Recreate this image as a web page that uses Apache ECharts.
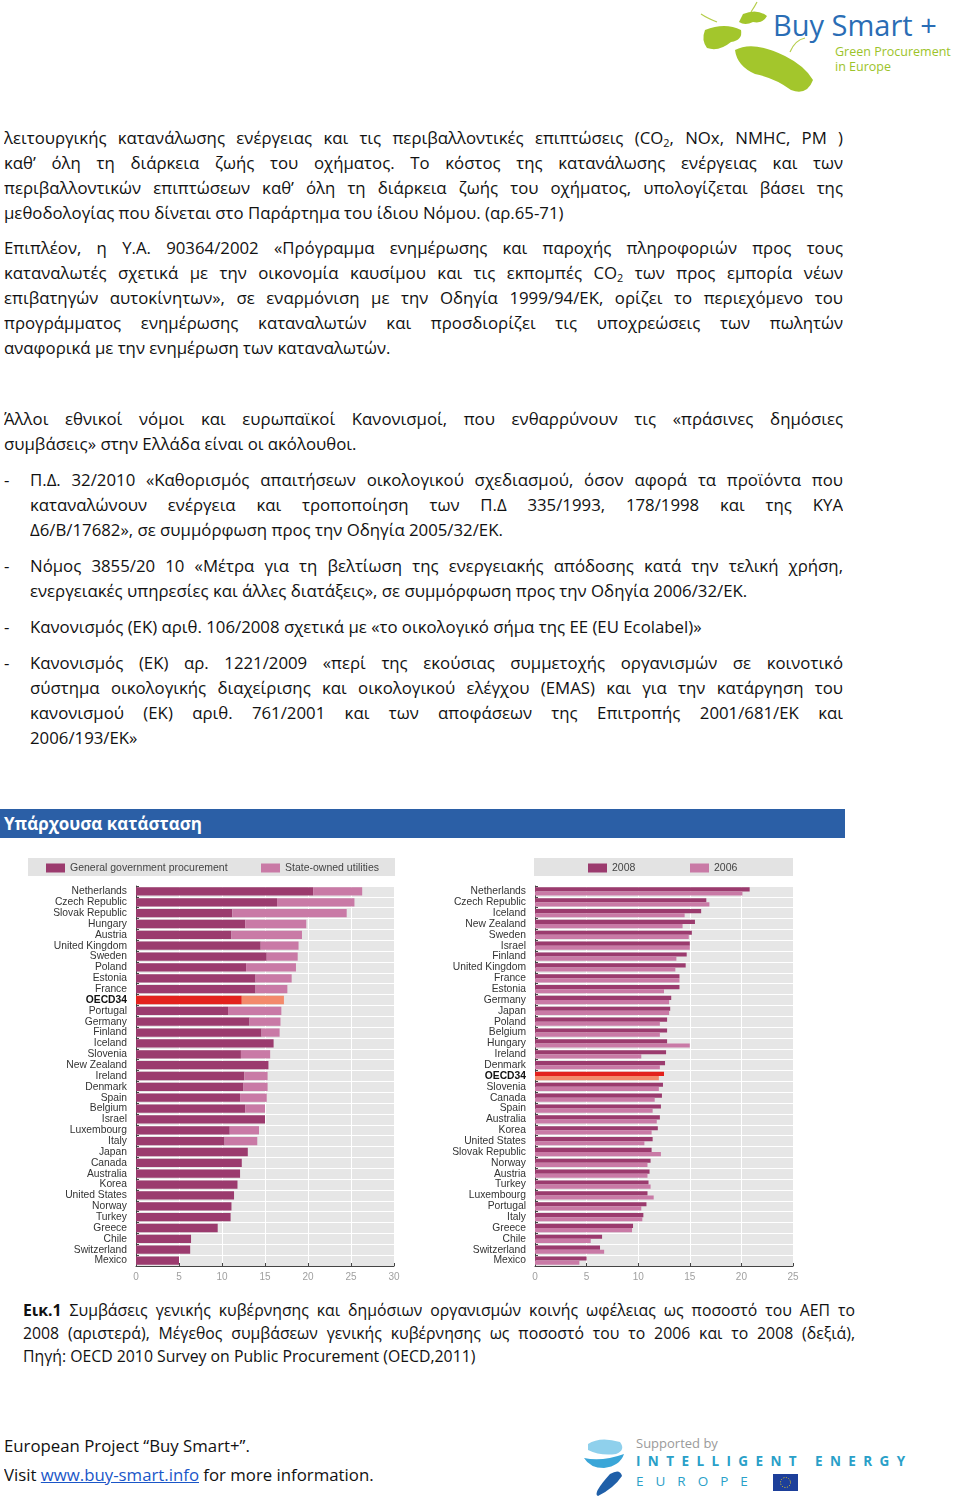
<!DOCTYPE html>
<html>
<head>
<meta charset="utf-8">
<script src="https://cdn.jsdelivr.net/npm/echarts@6/dist/echarts.min.js"></script>
<style>
  html, body { margin:0; padding:0; background:#fff; }
  body { width:960px; height:1500px; position:relative; overflow:hidden; font-family:"Open Sans","Noto Sans",sans-serif; color:#111; }
  .ln { position:absolute; height:25px; line-height:25px; font-size:16.8px; white-space:normal; overflow:hidden; }
  .j { text-align:justify; text-align-last:justify; }
  .cap { font-size:15.8px; height:23px; line-height:23px; }
  sub { font-size:0.65em; vertical-align:-0.25em; line-height:0; }
  #chart { position:absolute; left:0; top:850px; width:960px; height:445px; }
  .hdr { position:absolute; left:0; top:809px; width:845px; height:29px; background:#2b5fa6; color:#fff; font-weight:bold; font-size:17px; line-height:29px; padding-left:4px; box-sizing:border-box; }
  a { color:#1a56c8; text-decoration:underline; }
</style>
</head>
<body>
<!-- top-right logo -->
<svg style="position:absolute;left:695px;top:0" width="265" height="100">
  <g stroke="#b5cd4a" stroke-width="1.2" fill="none">
    <path d="M56 12 Q60 6 62 2"/><path d="M22 22 Q12 18 6 14"/><path d="M95 52 Q100 40 110 38"/>
  </g>
  <g fill="#a3c62c">
    <path d="M48 14 Q62 8 72 16 Q68 24 58 22 Q50 26 44 22 Z"/>
    <path d="M10 30 Q30 22 46 30 Q48 40 36 42 Q24 52 12 48 Q6 40 10 30 Z"/>
    <path d="M40 50 Q58 40 90 56 Q110 66 118 80 Q112 96 96 90 Q80 78 60 74 Q42 66 40 50 Z"/>
  </g>
  <text x="78" y="36" font-family="Open Sans, sans-serif" font-size="29" fill="#2a6db5">Buy Smart +</text>
  <text x="140" y="56" font-family="Open Sans, sans-serif" font-size="12.5" fill="#9cc32a">Green Procurement</text>
  <text x="140" y="71" font-family="Open Sans, sans-serif" font-size="12.5" fill="#9cc32a">in Europe</text>
</svg>

<div id="doc"></div>
<div class="hdr">Υπάρχουσα κατάσταση</div>
<div id="chart"></div>

<!-- bottom logo -->
<svg style="position:absolute;left:580px;top:1432px" width="340" height="66">
  <path d="M8 12 Q20 4 40 10 Q46 18 36 22 Q20 24 8 18 Z" fill="#8fd0ec"/>
  <path d="M4 26 Q22 30 44 22 Q40 34 24 36 Q10 36 4 26 Z" fill="#3aa6d8"/>
  <path d="M30 42 Q40 36 42 44 Q34 56 18 64 Q12 62 30 42 Z" fill="#1f5fa8"/>
  <text x="56" y="16" font-family="Open Sans, sans-serif" font-size="13" fill="#9a9a9a">Supported by</text>
  <text x="56" y="34" font-family="Open Sans, sans-serif" font-size="13.5" font-weight="bold" fill="#2aa0c8" letter-spacing="7.4">INTELLIGENT ENERGY</text>
  <text x="56" y="54" font-family="Open Sans, sans-serif" font-size="13.5" fill="#2aa0c8" letter-spacing="12">EUROPE</text>
  <rect x="193" y="42" width="25" height="17" fill="#1d3f9a"/>
  <circle cx="205.5" cy="50.5" r="5" fill="none" stroke="#f3d21b" stroke-width="1" stroke-dasharray="1 1.6"/>
</svg>

<script>
// ---------------- DATA ----------------
const leftCountries = ['Netherlands','Czech Republic','Slovak Republic','Hungary','Austria','United Kingdom','Sweden','Poland','Estonia','France','OECD34','Portugal','Germany','Finland','Iceland','Slovenia','New Zealand','Ireland','Denmark','Spain','Belgium','Israel','Luxembourg','Italy','Japan','Canada','Australia','Korea','United States','Norway','Turkey','Greece','Chile','Switzerland','Mexico'];
const generalGov = [20.6,16.4,11.2,12.7,11.1,14.5,15.2,12.8,13.9,13.9,12.3,10.7,13.2,14.6,16.0,12.2,15.4,12.6,12.5,12.1,12.7,15.0,10.9,10.3,13.0,12.3,12.1,11.8,11.4,11.1,11.0,9.5,6.4,6.3,5.0];
const stateOwned = [5.7,9.0,13.3,7.1,8.2,4.4,3.6,5.8,4.2,3.7,4.9,6.2,3.6,2.1,0,3.4,0,2.7,2.8,3.1,2.3,0,3.4,3.8,0,0,0,0,0,0,0,0,0,0,0];
const leftTicks = [0,5,10,15,20,25,30];

const rightCountries = ['Netherlands','Czech Republic','Iceland','New Zealand','Sweden','Israel','Finland','United Kingdom','France','Estonia','Germany','Japan','Poland','Belgium','Hungary','Ireland','Denmark','OECD34','Slovenia','Canada','Spain','Australia','Korea','United States','Slovak Republic','Norway','Austria','Turkey','Luxembourg','Portugal','Italy','Greece','Chile','Switzerland','Mexico'];
const v2008 = [20.8,16.6,16.1,15.5,15.2,15.0,14.7,14.6,14.0,14.0,13.2,13.1,12.8,12.8,12.8,12.7,12.6,12.5,12.4,12.3,12.2,12.1,11.9,11.4,11.3,11.2,11.1,11.0,10.9,10.8,10.5,9.5,6.5,6.3,5.0];
const v2006 = [20.1,16.9,14.5,14.3,14.9,15.0,13.7,13.6,14.0,12.5,13.0,13.0,12.1,12.1,15.0,10.3,12.1,12.0,12.0,11.6,11.4,11.8,11.3,10.6,12.2,10.9,10.9,11.2,11.5,10.3,10.4,9.4,5.4,6.7,4.3];
const rightTicks = [0,5,10,15,20,25];

const leftLegend = ['General government procurement','State-owned utilities'];
const rightLegend = ['2008','2006'];

// ---------------- TEXT ----------------
const docLines = [
  [137,4,839,true,'λειτουργικής κατανάλωσης ενέργειας και τις περιβαλλοντικές επιπτώσεις (CO<sub>2</sub>, NOx, NMHC, PM )'],
  [162,4,839,true,'καθ’ όλη τη διάρκεια ζωής του οχήματος. Το κόστος της κατανάλωσης ενέργειας και των'],
  [187,4,839,true,'περιβαλλοντικών επιπτώσεων καθ’ όλη τη διάρκεια ζωής του οχήματος, υπολογίζεται βάσει της'],
  [212,4,839,false,'μεθοδολογίας που δίνεται στο Παράρτημα του ίδιου Νόμου. (αρ.65-71)'],
  [247,4,839,true,'Επιπλέον, η Υ.Α. 90364/2002 «Πρόγραμμα ενημέρωσης και παροχής πληροφοριών προς τους'],
  [272,4,839,true,'καταναλωτές σχετικά με την οικονομία καυσίμου και τις εκπομπές CO<sub>2</sub> των προς εμπορία νέων'],
  [297,4,839,true,'επιβατηγών αυτοκίνητων», σε εναρμόνιση με την Οδηγία 1999/94/ΕΚ, ορίζει το περιεχόμενο του'],
  [322,4,839,true,'προγράμματος ενημέρωσης καταναλωτών και προσδιορίζει τις υποχρεώσεις των πωλητών'],
  [347,4,839,false,'αναφορικά με την ενημέρωση των καταναλωτών.'],
  [418,4,839,true,'Άλλοι εθνικοί νόμοι και ευρωπαϊκοί Κανονισμοί, που ενθαρρύνουν τις «πράσινες δημόσιες'],
  [443,4,839,false,'συμβάσεις» στην Ελλάδα είναι οι ακόλουθοι.'],
  [479,4,10,false,'-'],
  [479,30,813,true,'Π.Δ. 32/2010 «Καθορισμός απαιτήσεων οικολογικού σχεδιασμού, όσον αφορά τα προϊόντα που'],
  [504,30,813,true,'καταναλώνουν ενέργεια και τροποποίηση των Π.Δ 335/1993, 178/1998 και της ΚΥΑ'],
  [529,30,813,false,'Δ6/Β/17682», σε συμμόρφωση προς την Οδηγία 2005/32/ΕΚ.'],
  [565,4,10,false,'-'],
  [565,30,813,true,'Νόμος 3855/20 10 «Μέτρα για τη βελτίωση της ενεργειακής απόδοσης κατά την τελική χρήση,'],
  [590,30,813,false,'ενεργειακές υπηρεσίες και άλλες διατάξεις», σε συμμόρφωση προς την Οδηγία 2006/32/ΕΚ.'],
  [626,4,10,false,'-'],
  [626,30,813,false,'Κανονισμός (ΕΚ) αριθ. 106/2008 σχετικά με «το οικολογικό σήμα της ΕΕ (EU Ecolabel)»'],
  [662,4,10,false,'-'],
  [662,30,813,true,'Κανονισμός (ΕΚ) αρ. 1221/2009 «περί της εκούσιας συμμετοχής οργανισμών σε κοινοτικό'],
  [687,30,813,true,'σύστημα οικολογικής διαχείρισης και οικολογικού ελέγχου (EMAS) και για την κατάργηση του'],
  [712,30,813,true,'κανονισμού (ΕΚ) αριθ. 761/2001 και των αποφάσεων της Επιτροπής 2001/681/ΕΚ και'],
  [737,30,813,false,'2006/193/ΕΚ»'],
  [1445,4,600,false,'European Project “Buy Smart+”.'],
  [1474,4,600,false,'Visit <a>www.buy-smart.info</a> for more information.']
];
const capLines = [
  [1310,23,832,true,'<b>Εικ.1</b> Συμβάσεις γενικής κυβέρνησης και δημόσιων οργανισμών κοινής ωφέλειας ως ποσοστό του ΑΕΠ το'],
  [1333,23,832,true,'2008 (αριστερά), Μέγεθος συμβάσεων γενικής κυβέρνησης ως ποσοστό του το 2006 και το 2008 (δεξιά),'],
  [1356,23,832,false,'Πηγή: OECD 2010 Survey on Public Procurement (OECD,2011)']
];
const doc = document.getElementById('doc');
function addLines(lines, cls, h) {
  lines.forEach(([cy,l,w,j,html]) => {
    const d = document.createElement('div');
    d.className = 'ln ' + cls + (j ? ' j' : '');
    d.style.left = l + 'px'; d.style.width = w + 'px';
    d.style.top = (cy - h/2) + 'px';
    d.innerHTML = html;
    doc.appendChild(d);
  });
}
addLines(docLines, '', 25);
addLines(capLines, 'cap', 23);
document.querySelectorAll('.ln').forEach(el => {
  let fs = parseFloat(getComputedStyle(el).fontSize);
  el.style.height = 'auto';
  const lh = parseFloat(getComputedStyle(el).lineHeight);
  let guard = 0;
  while (el.scrollHeight > lh * 1.5 && guard < 40) { fs -= 0.2; el.style.fontSize = fs + 'px'; guard++; }
  el.style.height = lh + 'px';
});

// ---------------- CHART ----------------
const DARK = '#9b3b6e', LIGHT = '#c97aa6', RED = '#e3221d', SALMON = '#f38a6b';
const labelFont = '"Liberation Sans",Arial,sans-serif';
function itemsFrom(values, cats, normal, special) {
  return values.map((v, i) => cats[i] === 'OECD34' ? { value: v, itemStyle: { color: special } } : { value: v, itemStyle: { color: normal } });
}
function catAxis(idx, cats) {
  return {
    type: 'category', gridIndex: idx, data: cats, inverse: true,
    axisLine: { show: true, lineStyle: { color: '#444', width: 1 } },
    axisTick: { show: true, inside: true, length: 3, interval: 0, lineStyle: { color: '#444' } },
    splitLine: { show: true, interval: 0, lineStyle: { color: '#ffffff', width: 1 } },
    axisLabel: {
      interval: 0, hideOverlap: false, margin: 9, fontFamily: labelFont, fontSize: 10.3, color: '#333',
      formatter: v => v === 'OECD34' ? '{b|' + v + '}' : v,
      rich: { b: { fontWeight: 'bold', color: '#111', fontFamily: labelFont, fontSize: 10.3 } }
    }
  };
}
function valAxis(idx, ticks) {
  return {
    type: 'value', gridIndex: idx, min: ticks[0], max: ticks[ticks.length-1], interval: ticks[1]-ticks[0],
    axisLine: { show: true, lineStyle: { color: '#444', width: 1 } },
    axisTick: { show: true, inside: true, length: 3, lineStyle: { color: '#444' } },
    splitLine: { show: true, lineStyle: { color: '#ffffff', width: 1 } },
    axisLabel: { margin: 6, fontFamily: labelFont, fontSize: 10, color: '#a0a0a0' }
  };
}
const legendBase = { orient: 'horizontal', itemWidth: 19, itemHeight: 9, icon: 'rect',
  textStyle: { fontFamily: labelFont, fontSize: 10.5, color: '#444' }, itemGap: 0, selectedMode: false, padding: 0 };
const chart = echarts.init(document.getElementById('chart'), null, { renderer: 'canvas' });
chart.setOption({
  animation: false,
  graphic: [
    { type: 'rect', shape: { x: 28, y: 8, width: 367, height: 18 }, style: { fill: '#e3e3e3' }, z: -10 },
    { type: 'rect', shape: { x: 534, y: 8, width: 259, height: 18 }, style: { fill: '#e3e3e3' }, z: -10 }
  ],
  legend: [
    Object.assign({}, legendBase, { data: [leftLegend[0]], left: 46, top: 12.5 }),
    Object.assign({}, legendBase, { data: [leftLegend[1]], left: 261, top: 12.5 }),
    Object.assign({}, legendBase, { data: [rightLegend[0]], left: 588, top: 12.5 }),
    Object.assign({}, legendBase, { data: [rightLegend[1]], left: 690, top: 12.5 })
  ],
  grid: [
    { left: 136, top: 36, width: 258, height: 380, show: true, backgroundColor: '#e6e6e6', borderWidth: 0 },
    { left: 535, top: 36, width: 258, height: 380, show: true, backgroundColor: '#e6e6e6', borderWidth: 0 }
  ],
  xAxis: [valAxis(0, leftTicks), valAxis(1, rightTicks)],
  yAxis: [catAxis(0, leftCountries), catAxis(1, rightCountries)],
  series: [
    { name: leftLegend[0], type: 'bar', stack: 'l', xAxisIndex: 0, yAxisIndex: 0, barCategoryGap: '24%',
      itemStyle: { color: DARK }, data: itemsFrom(generalGov, leftCountries, DARK, RED) },
    { name: leftLegend[1], type: 'bar', stack: 'l', xAxisIndex: 0, yAxisIndex: 0, barCategoryGap: '24%',
      itemStyle: { color: LIGHT }, data: itemsFrom(stateOwned, leftCountries, LIGHT, SALMON) },
    { name: rightLegend[0], type: 'bar', xAxisIndex: 1, yAxisIndex: 1, barGap: '0%', barCategoryGap: '24%',
      itemStyle: { color: DARK }, data: itemsFrom(v2008, rightCountries, DARK, RED) },
    { name: rightLegend[1], type: 'bar', xAxisIndex: 1, yAxisIndex: 1, barGap: '0%', barCategoryGap: '24%',
      itemStyle: { color: LIGHT }, data: itemsFrom(v2006, rightCountries, LIGHT, SALMON) }
  ]
});
</script>
</body>
</html>
